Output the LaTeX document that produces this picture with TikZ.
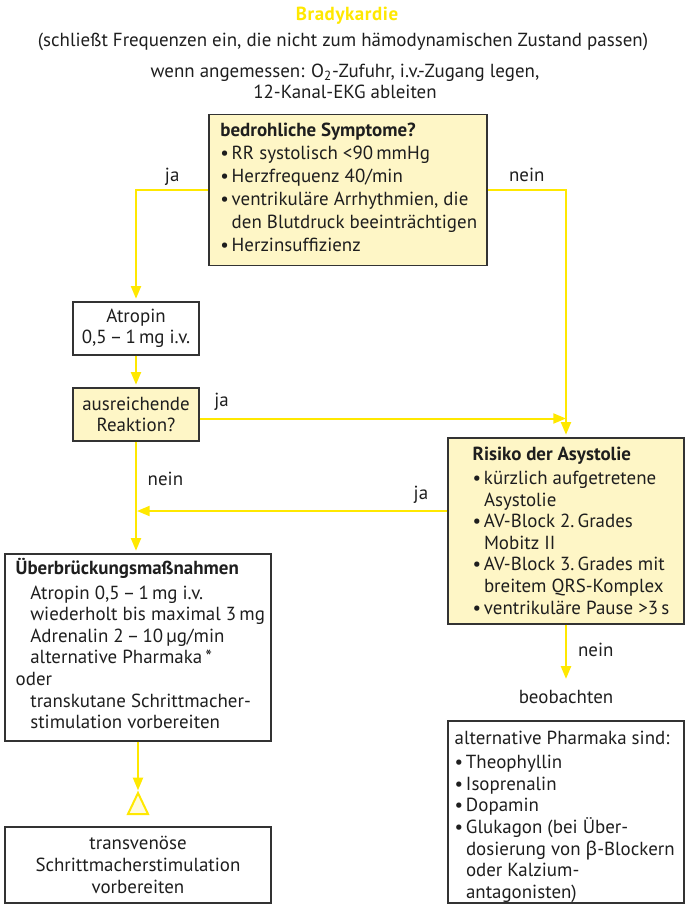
\documentclass[tikz,border=0pt]{standalone}
\usepackage{fontspec}
\setmainfont{PT Sans}
\newfontfamily\grk{Noto Sans}
\usetikzlibrary{arrows.meta,positioning}

\definecolor{ylw}{HTML}{FFE800}
\definecolor{pale}{HTML}{FEF6C6}
\definecolor{paler}{HTML}{FFFBDF}
\definecolor{ink}{HTML}{1E1E1E}
\definecolor{frame}{HTML}{333333}
\newcommand{\itm}{\makebox[8.5pt][l]{\textbullet}}
\newcommand{\cnt}{\hspace*{8.5pt}}
\newcommand{\ind}{\hspace*{11pt}}

\begin{document}
\begin{tikzpicture}[x=0.75pt,y=-0.75pt,>={Triangle[length=9.5pt,width=7.5pt]},
    font=\fontsize{14.2}{16.2}\selectfont,text=ink,
    box/.style={draw=frame,line width=0.9pt,inner sep=0pt},
    pale box/.style={box,fill=pale},
    txt/.style={inner sep=0pt,align=left},
    flow/.style={->,draw=ylw,line width=1.5pt,shorten >=2pt},
    tag/.style={inner sep=2.5pt}]
  \useasboundingbox (0,0) rectangle (685,904);

  % header
  \node[anchor=base,text=ylw,font=\fontsize{14.2}{17}\selectfont\bfseries\addfontfeature{LetterSpace=3}] (title) at (347,20) {Bradykardie};
  \node[anchor=base] (note) at (343,46.7) {(schließt Frequenzen ein, die nicht zum hämodynamischen Zustand passen)};
  \node[anchor=base] (prep1) at (345,77.3) {wenn angemessen: O\textsubscript{2}-Zufuhr, i.v.-Zugang legen,};
  \node[anchor=base] (prep2) at (345,98.3) {12-Kanal-EKG ableiten};

  % boxes
  \node[pale box,minimum width=208.5pt,minimum height=113.8pt] (symp) at (348,190) {};
  \node[txt,font=\fontsize{14.2}{17.25}\selectfont,below right=7pt and 8.8pt of symp.north west] (symptxt)
    {\textbf{bedrohliche Symptome?}\\
     \itm RR systolisch <90\,mmHg\\
     \itm Herzfrequenz 40/min\\
     \itm ventrikuläre Arrhythmien, die\\
     \cnt den Blutdruck beeinträchtigen\\
     \itm Herzinsuffizienz};

  \node[box,fill=white,align=center,minimum width=94.5pt,minimum height=39.75pt,
        font=\fontsize{14.2}{15.5}\selectfont] (atro) at (136,328.5) {Atropin\\0,5\,--\,1\,mg i.v.};
  \node[pale box,align=center,minimum width=94.5pt,minimum height=39.75pt,
        font=\fontsize{14.2}{15.5}\selectfont] (reak) at (136,414.5) {ausreichende\\Reaktion?};

  \node[pale box,minimum width=177pt,minimum height=139.5pt] (risk) at (566,531) {};
  \node[txt,below right=6.8pt and 18.75pt of risk.north west] (risktxt)
    {\textbf{Risiko der Asystolie}\\[2pt]
     \itm kürzlich aufgetretene\\
     \cnt Asystolie\\
     \itm AV-Block 2.\,Grades\\
     \cnt Mobitz II\\
     \itm AV-Block 3.\,Grades mit\\
     \cnt breitem QRS-Komplex\\
     \itm ventrikuläre Pause >3\,s};

  \node[box,minimum width=199.5pt,minimum height=140.25pt] (ueber) at (138,647.5) {};
  \node[txt,below right=3.2pt and 8.25pt of ueber.north west] (uebertxt)
    {\textbf{Überbrückungsmaßnahmen}\\[2.5pt]
     \ind Atropin 0,5\,--\,1\,mg i.v.\\
     \ind wiederholt bis maximal 3\,mg\\
     \ind Adrenalin 2\,--\,10\,µg/min\\
     \ind alternative Pharmaka\,*\\
     oder\\
     \ind transkutane Schrittmacher-\\
     \ind stimulation vorbereiten};

  \node[box,align=center,minimum width=199.5pt,minimum height=57pt] (trans) at (138,865)
    {transvenöse\\Schrittmacherstimulation\\vorbereiten};

  \node (beob) at (566,697) {beobachten};

  \node[box,minimum width=177pt,minimum height=136.5pt] (alt) at (566,812) {};
  \node[txt,below right=7.8pt and 5.25pt of alt.north west] (alttxt)
    {alternative Pharmaka sind:\\[2pt]
     \itm Theophyllin\\
     \itm Isoprenalin\\
     \itm Dopamin\\
     \itm Glukagon (bei Über-\\
     \cnt dosierung von {\grk β}-Blockern\\
     \cnt oder Kalzium-\\
     \cnt antagonisten)};

  % hollow triangle
  \coordinate (tri) at (138,793);
  \draw[ylw,fill=paler,line width=1.5pt] (tri) -- ++(10,21) -- ++(-20,0) -- cycle;

  % connectors
  \coordinate (rj) at ([yshift=-3pt]reak.east);
  \coordinate (rw) at ([yshift=15pt]risk.west);
  \draw[flow] (symp.west) -| node[tag,pos=0.25,above] {ja} (atro.north);
  \draw[flow] (symp.east) -| node[tag,pos=0.25,above=2.75pt] {nein} (risk.north);
  \draw[flow] (atro) -- (reak);
  \draw[flow,shorten >=0pt] (rj) -- node[tag,pos=0.06,above=2.75pt] {ja} (rj -| risk.north);
  \draw[flow] (reak) -- node[pos=0.33,right=4.7pt] {nein} (reak.south |- ueber.north);
  \draw[flow,shorten >=0.75pt] (rw) -- node[tag,pos=0.085,above=2.2pt] {ja} (rw -| reak.south);
  \draw[flow] (ueber.south) -- (tri);
  \draw[flow,shorten >=5pt] (risk) -- node[pos=0.41,right=5pt] {nein} (beob);
\end{tikzpicture}
\end{document}
